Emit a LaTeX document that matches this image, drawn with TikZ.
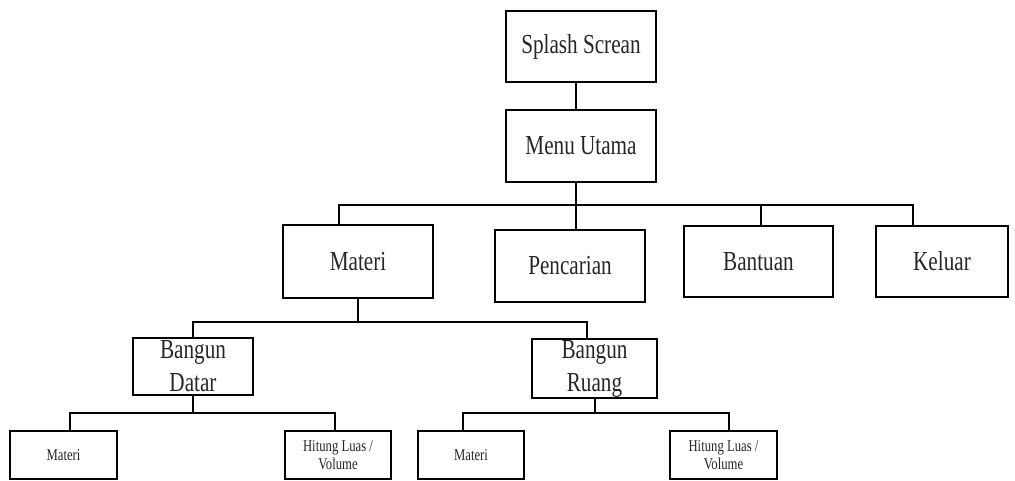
\documentclass[tikz,border=0pt]{standalone}
\usepackage{fontspec}
\newfontfamily\diafont[FakeStretch=0.77]{Liberation Serif}
\tikzset{
  menubox/.style={draw, line width=1.6pt, inner sep=0pt, align=center, text=black!85,
    font=\diafont\fontsize{27.5}{33}\selectfont},
  subbox/.style={menubox, font=\diafont\fontsize{16.5}{18}\selectfont},
  link/.style={line width=1.6pt}
}
\begin{document}
\begin{tikzpicture}[x=1pt,y=-1pt]
\useasboundingbox (0,0) rectangle (1015,481);
\node[menubox, minimum width=150, minimum height=71] (splash) at (581,46.5) {Splash Screan};
\node[menubox, minimum width=150, minimum height=72] (menu) at (581,146) {Menu Utama};
\node[menubox, minimum width=150, minimum height=73] (materi) at (358,261.5) {Materi};
\node[menubox, minimum width=150, minimum height=72] (cari) at (570,266) {Pencarian};
\node[menubox, minimum width=149, minimum height=71] (bantuan) at (758.5,261.5) {Bantuan};
\node[menubox, minimum width=132, minimum height=71] (keluar) at (942,261.5) {Keluar};
\node[menubox, minimum width=120, minimum height=57] (datar) at (193,366.5) {Bangun\\Datar};
\node[menubox, minimum width=125, minimum height=59] (ruang) at (594.5,368.5) {Bangun\\Ruang};
\node[subbox, minimum width=107, minimum height=48] (dmateri) at (63.5,455) {Materi};
\node[subbox, minimum width=106, minimum height=48] (dhitung) at (338,455) {Hitung Luas /\\Volume};
\node[subbox, minimum width=106, minimum height=48] (rmateri) at (471,455) {Materi};
\node[subbox, minimum width=107, minimum height=48] (rhitung) at (723.5,455) {Hitung Luas /\\Volume};
\coordinate (bar1) at (576,205);
\coordinate (bar2) at (358,322);
\coordinate (bar3) at (193,413);
\coordinate (bar4) at (595,413);
\draw[link] ([xshift=-5pt]splash.south) -- ([xshift=-5pt]menu.north);
\draw[link] ([xshift=-5pt]menu.south) -- (bar1);
\draw[link] ([xshift=-19pt]materi.north) |- (bar1) -| ([xshift=-29pt]keluar.north);
\draw[link] (bar1) -- ([xshift=6pt]cari.north);
\draw[link] ([xshift=2.5pt]bantuan.north) |- (bar1);
\draw[link] (materi.south) -- (bar2);
\draw[link] (datar.north) |- (bar2) -| ([xshift=-7.5pt]ruang.north);
\draw[link] (datar.south) -- (bar3);
\draw[link] ([xshift=6.5pt]dmateri.north) |- (bar3) -| ([xshift=-3pt]dhitung.north);
\draw[link] ([xshift=0.5pt]ruang.south) -- (bar4);
\draw[link] ([xshift=-8pt]rmateri.north) |- (bar4) -| ([xshift=5.5pt]rhitung.north);
\end{tikzpicture}
\end{document}
